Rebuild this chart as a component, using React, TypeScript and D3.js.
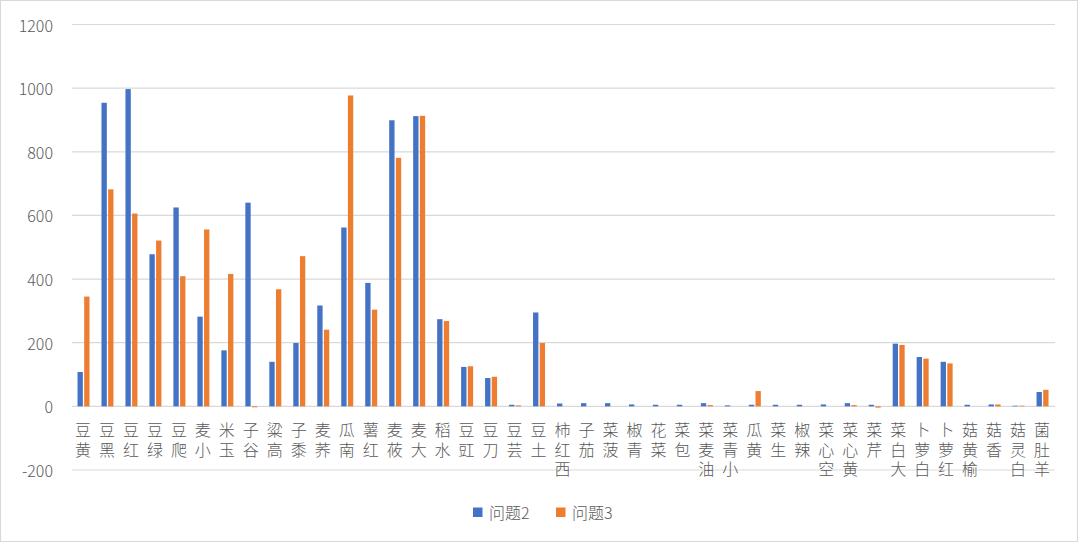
import React from "react";
import * as d3 from "d3";

const categories = ["黄豆","黑豆","红豆","绿豆","爬豆","小麦","玉米","谷子","高粱","黍子","荞麦","南瓜","红薯","莜麦","大麦","水稻","豇豆","刀豆","芸豆","土豆","西红柿","茄子","菠菜","青椒","菜花","包菜","油麦菜","小青菜","黄瓜","生菜","辣椒","空心菜","黄心菜","芹菜","大白菜","白萝卜","红萝卜","榆黄菇","香菇","白灵菇","羊肚菌"];
const q2 = [108, 954, 997, 478, 625, 282, 176, 640, 140, 199, 317, 562, 388, 899, 912, 274, 124, 89, 5, 295, 9, 10, 10, 6, 5, 5, 10, 3, 5, 5, 5, 6, 10, 5, 197, 155, 140, 5, 6, 2, 45];
const q3 = [345, 682, 606, 521, 409, 556, 416, -3, 368, 472, 241, 977, 304, 781, 913, 268, 126, 93, 3, 199, 0, 0, 0, 0, 0, 0, 4, 0, 48, 0, 0, 0, 4, -4, 193, 150, 135, 0, 6, 2, 52];
const seriesNames = ["问题2", "问题3"];
const seriesColors = ["#4472C4", "#ED7D31"];
const yTicks = [-200, 0, 200, 400, 600, 800, 1000, 1200];

const W = 1080, H = 544;
const FONT = '"Noto Sans CJK SC", "Noto Sans", sans-serif';

export default function App() {
  const x0 = d3.scaleBand<string>().domain(categories).range([72, 1055]).padding(0);
  const bw = x0.bandwidth();
  const x1 = d3.scaleBand<string>().domain(seriesNames).range([bw * 0.23, bw * 0.73]).paddingInner(0.2).paddingOuter(0);
  const y = d3.scaleLinear().domain([-200, 1200]).range([470, 24.5]);
  const series = [q2, q3];

  return (
    <svg width={W} height={H} style={{ position: "fixed", left: 0, top: 0, background: "#fff" }} fontFamily={FONT}>
      <rect x={0.5} y={0.5} width={1077} height={541} fill="#fff" stroke="#d9d9d9" />
      {yTicks.map((t) => (
        <g key={t}>
          <line x1={72} x2={1055} y1={y(t)} y2={y(t)} stroke="#d9d9d9" strokeWidth={1.2} />
          <text x={53} y={y(t)} textAnchor="end" dominantBaseline="central" fontSize={16} fontWeight={300} fill="#595959">{t}</text>
        </g>
      ))}
      {series.map((vals, si) => (
        <g key={si} fill={seriesColors[si]}>
          {vals.map((v, i) => {
            const xx = (x0(categories[i]) as number) + (x1(seriesNames[si]) as number);
            const y0 = y(0);
            const yv = y(v);
            return <rect key={i} x={xx} y={Math.min(y0, yv)} width={x1.bandwidth()} height={Math.abs(yv - y0)} />;
          })}
        </g>
      ))}
      {categories.map((c, i) => {
        const cx = (x0(c) as number) + bw / 2 - 1;
        const chars = Array.from(c).reverse();
        return (
          <g key={c}>
            {chars.map((ch, k) => (
              <text key={k} x={cx} y={429 + k * 19.5} textAnchor="middle" dominantBaseline="central" fontSize={16} fontWeight={300} fill="#595959">{ch}</text>
            ))}
          </g>
        );
      })}
      <g>
        <rect x={473} y={507.5} width={9.5} height={9.5} fill={seriesColors[0]} />
        <text x={489} y={512} dominantBaseline="central" fontSize={16} fontWeight={300} fill="#595959">{seriesNames[0]}</text>
        <rect x={556} y={507.5} width={9.5} height={9.5} fill={seriesColors[1]} />
        <text x={572} y={512} dominantBaseline="central" fontSize={16} fontWeight={300} fill="#595959">{seriesNames[1]}</text>
      </g>
    </svg>
  );
}
